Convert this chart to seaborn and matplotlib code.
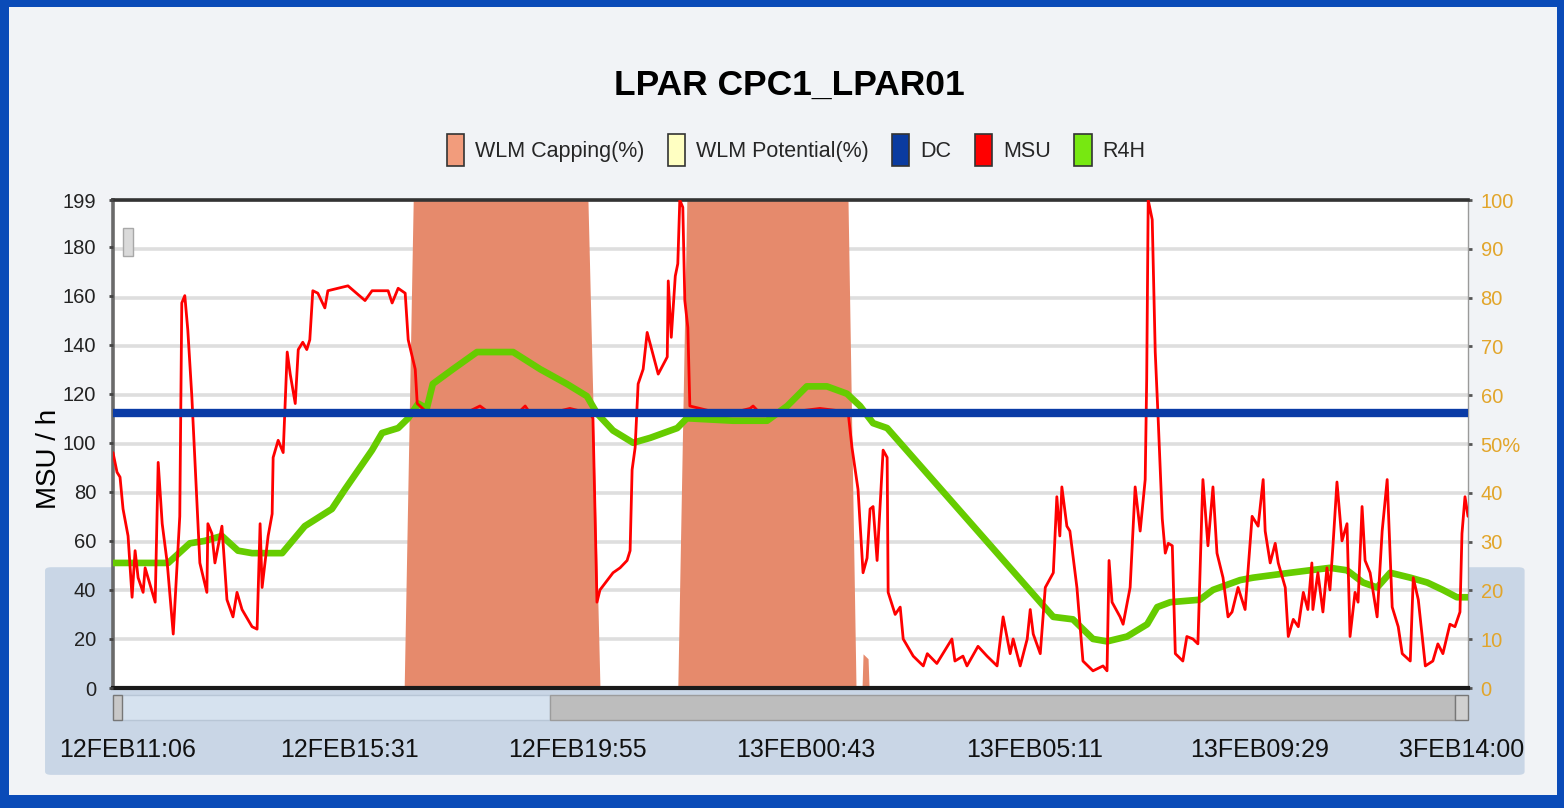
import numpy as np
import pandas as pd
import matplotlib.pyplot as plt
import seaborn as sns
from matplotlib.patches import Patch, Rectangle, FancyBboxPatch

# x values are hours after 12FEB 11:06
msu_hours = [0.00, 0.08, 0.14, 0.20, 0.30, 0.38, 0.44, 0.50, 0.60, 0.64, 0.84, 0.90, 0.98, 1.08, 1.20,
             1.33, 1.37, 1.43, 1.49, 1.57, 1.73, 1.87, 1.89, 1.97, 2.03, 2.17, 2.27, 2.39, 2.47, 2.57,
             2.77, 2.87, 2.93, 2.97, 3.09, 3.17, 3.19, 3.29, 3.39, 3.47, 3.53, 3.63, 3.69, 3.78, 3.86,
             3.92, 3.98, 4.08, 4.22, 4.28, 4.68, 5.02, 5.16, 5.48, 5.56, 5.68, 5.82, 5.88, 6.02, 6.06,
             6.22, 6.71, 7.11, 7.31, 7.51, 8.11, 8.21, 8.31, 8.90, 9.10, 9.50, 9.56, 9.64, 9.70, 9.96,
             10.10, 10.24, 10.30, 10.34, 10.40, 10.46, 10.56, 10.64, 10.86, 11.04, 11.06, 11.12, 11.20,
             11.25, 11.29, 11.35, 11.39, 11.45, 11.49, 11.69, 11.89, 12.29, 12.69, 12.75, 12.89, 13.69,
             14.08, 14.48, 14.64, 14.72, 14.84, 14.94, 15.02, 15.08, 15.14, 15.22, 15.34, 15.42, 15.44,
             15.58, 15.68, 15.74, 15.94, 16.14, 16.22, 16.41, 16.71, 16.77, 16.93, 17.01, 17.23, 17.41,
             17.61, 17.73, 17.87, 17.93, 18.07, 18.21, 18.27, 18.33, 18.47, 18.57, 18.73, 18.80, 18.86,
             18.90, 19.00, 19.06, 19.20, 19.32, 19.52, 19.72, 19.80, 19.84, 19.90, 20.06, 20.12, 20.26,
             20.36, 20.46, 20.56, 20.59, 20.62, 20.70, 20.76, 20.82, 20.90, 20.96, 21.02, 21.10, 21.16,
             21.31, 21.39, 21.51, 21.61, 21.69, 21.71, 21.81, 21.91, 21.99, 22.11, 22.21, 22.29, 22.41,
             22.55, 22.69, 22.81, 22.91, 22.95, 23.05, 23.15, 23.21, 23.35, 23.41, 23.51, 23.61, 23.71,
             23.80, 23.88, 23.90, 24.00, 24.10, 24.18, 24.24, 24.30, 24.38, 24.48, 24.58, 24.64, 24.74,
             24.80, 24.88, 24.94, 25.04, 25.18, 25.28, 25.38, 25.48, 25.60, 25.68, 25.84, 25.90, 26.00,
             26.14, 26.29, 26.39, 26.49, 26.63, 26.73, 26.83, 26.87, 26.93, 26.99]
msu_values = [96, 88, 86, 73, 62, 37, 56, 45, 39, 49, 35, 92, 67, 51, 22,
              70, 157, 160, 146, 119, 51, 39, 67, 63, 51, 66, 36, 29, 39, 32,
              25, 24, 67, 41, 62, 71, 94, 101, 96, 137, 128, 116, 138, 141, 138,
              142, 162, 161, 155, 162, 164, 158, 162, 162, 157, 163, 161, 142, 130, 116,
              113, 112, 113, 115, 112, 113, 115, 112, 113, 114, 112, 110, 35, 40, 47,
              49, 52, 56, 89, 98, 124, 130, 145, 128, 135, 166, 143, 168,
              173, 199, 196, 158, 147, 115, 114, 113, 112, 114, 115, 112, 113,
              114, 113, 113, 98, 81, 47, 53, 73, 74, 52, 97, 94, 39,
              30, 33, 20, 13, 9, 14, 10, 20, 11, 13, 9, 17, 13,
              9, 29, 14, 20, 9, 20, 32, 22, 14, 41, 47, 78, 62,
              82, 66, 64, 41, 11, 7, 9, 7, 52, 35, 29, 26, 41,
              82, 64, 85, 126, 199, 191, 137, 109, 69, 55, 59, 58, 14,
              11, 21, 20, 18, 73, 85, 58, 82, 55, 45, 29, 31, 41,
              32, 70, 66, 85, 64, 51, 59, 51, 41, 21, 28, 25, 39,
              32, 51, 32, 47, 31, 49, 40, 58, 84, 60, 67, 21, 39,
              35, 74, 52, 47, 29, 64, 85, 33, 25, 14, 11, 45, 36,
              9, 11, 18, 14, 26, 25, 31, 63, 78, 70]

r4h_hours = [0.00, 1.10, 1.53, 1.83, 2.17, 2.49, 2.77, 3.37, 3.82, 4.36, 4.62, 5.16, 5.36, 5.68, 5.88,
             6.08, 6.25, 6.37, 6.77, 7.25, 7.97, 8.51, 9.04, 9.44, 9.64, 9.96, 10.36, 10.70, 11.24,
             11.43, 12.35, 13.03, 13.43, 13.82, 14.22, 14.62, 14.88, 15.14, 15.42, 18.47, 18.73,
             19.12, 19.52, 19.80, 20.20, 20.60, 20.80, 21.06, 21.65, 21.91, 22.45, 22.71, 23.45,
             23.84, 24.24, 24.58, 24.90, 25.18, 25.44, 25.84, 26.18, 26.49, 26.77, 26.99]
r4h_values = [51, 51, 59, 60, 62, 56, 55, 55, 66, 73, 81, 97, 104, 106, 110,
              116, 114, 124, 130, 137, 137, 130, 124, 119, 112, 105, 100, 102, 106,
              110, 109, 109, 115, 123, 123, 120, 115, 108, 106, 35, 29,
              28, 20, 19, 21, 26, 33, 35, 36, 40, 44, 45, 47,
              48, 49, 48, 43, 41, 47, 45, 43, 40, 37, 37]

cap_hours = [0.00, 5.80, 5.98, 9.46, 9.70, 11.25, 11.43, 14.64, 14.80, 14.92, 14.94, 15.04, 15.06, 26.99]
cap_values = [0, 0, 100, 100, 0, 0, 100, 100, 0, 0, 7, 6, 0, 0]

dc_value = 112

tick_hours = [0.30, 4.72, 9.26, 13.80, 18.35, 22.83, 26.87]
tick_labels = ['12FEB11:06', '12FEB15:31', '12FEB19:55', '13FEB00:43',
               '13FEB05:11', '13FEB09:29', '3FEB14:00']
msu_ticks = [0, 20, 40, 60, 80, 100, 120, 140, 160, 180, 199]
pct_ticks = [0, 10, 20, 30, 40, 50, 60, 70, 80, 90, 100]
pct_labels = ['0', '10', '20', '30', '40', '50%', '60', '70', '80', '90', '100']

legend_labels = ['WLM Capping(%)', 'WLM Potential(%)', 'DC', 'MSU', 'R4H']
legend_colors = ['#F29C7C', '#FFFFC2', '#0A3BA0', '#FF0000', '#77E811']

sns.set_theme(style="white")
plt.rcParams['font.family'] = ['Liberation Sans', 'DejaVu Sans']

fig = plt.figure(figsize=(15.64, 8.08), dpi=100, facecolor='#0A4BB8')
fig.patches.append(Rectangle((0.0058, 0.016), 0.9898, 0.9752, transform=fig.transFigure,
                             facecolor='#F1F3F6', edgecolor='none', zorder=-3))
fig.patches.append(FancyBboxPatch((0.0288, 0.041), 0.946, 0.257, boxstyle='round,pad=0,rounding_size=0.004',
                                  transform=fig.transFigure, facecolor='#C9D6E6', edgecolor='none', zorder=-2))

axp = fig.add_axes([0.07225, 0.14851, 0.86637, 0.60396])
axp.set_facecolor('white')
ax = axp.twinx()
ax.patch.set_visible(False)

# capping area on the percent axis (underneath)
axp.fill_between(cap_hours, 0, cap_values, color='#E68A6C', lw=0, zorder=2)

sns.lineplot(x=r4h_hours, y=r4h_values, ax=ax, color='#66CC00', lw=4.8, sort=False, estimator=None, zorder=3)
sns.lineplot(x=msu_hours, y=msu_values, ax=ax, color='#FF0000', lw=2.0, sort=False, estimator=None, zorder=4)
ax.axhline(dc_value, color='#0A3BA6', lw=6, zorder=5)

axp.set_xlim(0, 26.99)
axp.set_ylim(0, 100)
ax.set_ylim(0, 199)

axp.set_yticks(pct_ticks)
axp.set_yticklabels(pct_labels)
axp.yaxis.tick_right()
axp.set_axisbelow(True)
axp.yaxis.grid(True, color='#DEDEDE', lw=2.6)
axp.xaxis.grid(False)
axp.tick_params(axis='y', labelsize=14.5, labelcolor='#E2A52A', length=3, width=2, color='#555', pad=6)

ax.set_yticks(msu_ticks)
ax.yaxis.tick_left()
ax.yaxis.set_label_position('left')
ax.tick_params(axis='y', labelsize=14.5, labelcolor='#222', length=3, width=2, color='#444', pad=9)
ax.set_ylabel('MSU / h', fontsize=20, color='black')
ax.yaxis.set_label_coords(-0.038, 0.47)

axp.set_xticks(tick_hours)
axp.set_xticklabels(tick_labels)
axp.tick_params(axis='x', labelsize=18, labelcolor='#111', length=0, pad=36)

for s in ax.spines.values():
    s.set_visible(False)
axp.spines['top'].set_color('#333333')
axp.spines['top'].set_linewidth(2.6)
axp.spines['bottom'].set_color('#1A1A1A')
axp.spines['bottom'].set_linewidth(3)
axp.spines['left'].set_color('#6A6A6A')
axp.spines['left'].set_linewidth(2.6)
axp.spines['right'].set_color('#9A9A9A')
axp.spines['right'].set_linewidth(1)

# scrollbar under the plot
axp.add_patch(Rectangle((0, -0.066), 0.3225, 0.052, transform=axp.transAxes, clip_on=False,
                        facecolor='#D6E2EF', edgecolor='#B8C6D6', lw=1))
axp.add_patch(Rectangle((0.3225, -0.066), 0.668, 0.052, transform=axp.transAxes, clip_on=False,
                        facecolor='#BDBDBD', edgecolor='#9C9C9C', lw=1))
axp.add_patch(Rectangle((0.9905, -0.066), 0.0095, 0.052, transform=axp.transAxes, clip_on=False,
                        facecolor='#D0D0D0', edgecolor='#777777', lw=1))
axp.add_patch(Rectangle((0.0, -0.066), 0.007, 0.052, transform=axp.transAxes, clip_on=False,
                        facecolor='#C8C8C8', edgecolor='#777777', lw=1))
# small zoom button
axp.add_patch(Rectangle((0.0074, 0.885), 0.0074, 0.057, transform=axp.transAxes,
                        facecolor='#DADADA', edgecolor='#A8A8A8', lw=1, zorder=6))

fig.text(0.505, 0.895, 'LPAR CPC1_LPAR01', ha='center', va='center', fontsize=25.5,
         fontweight='bold', color='black')

handles = [Patch(facecolor=c, edgecolor='#333333', lw=1.2) for c in legend_colors]
fig.legend(handles, legend_labels, loc='center', bbox_to_anchor=(0.509, 0.814), ncol=5,
           frameon=False, fontsize=15.5, handlelength=0.8, handleheight=1.9,
           handletextpad=0.5, columnspacing=1.1)

plt.savefig('out.png', dpi=100, facecolor=fig.get_facecolor())
